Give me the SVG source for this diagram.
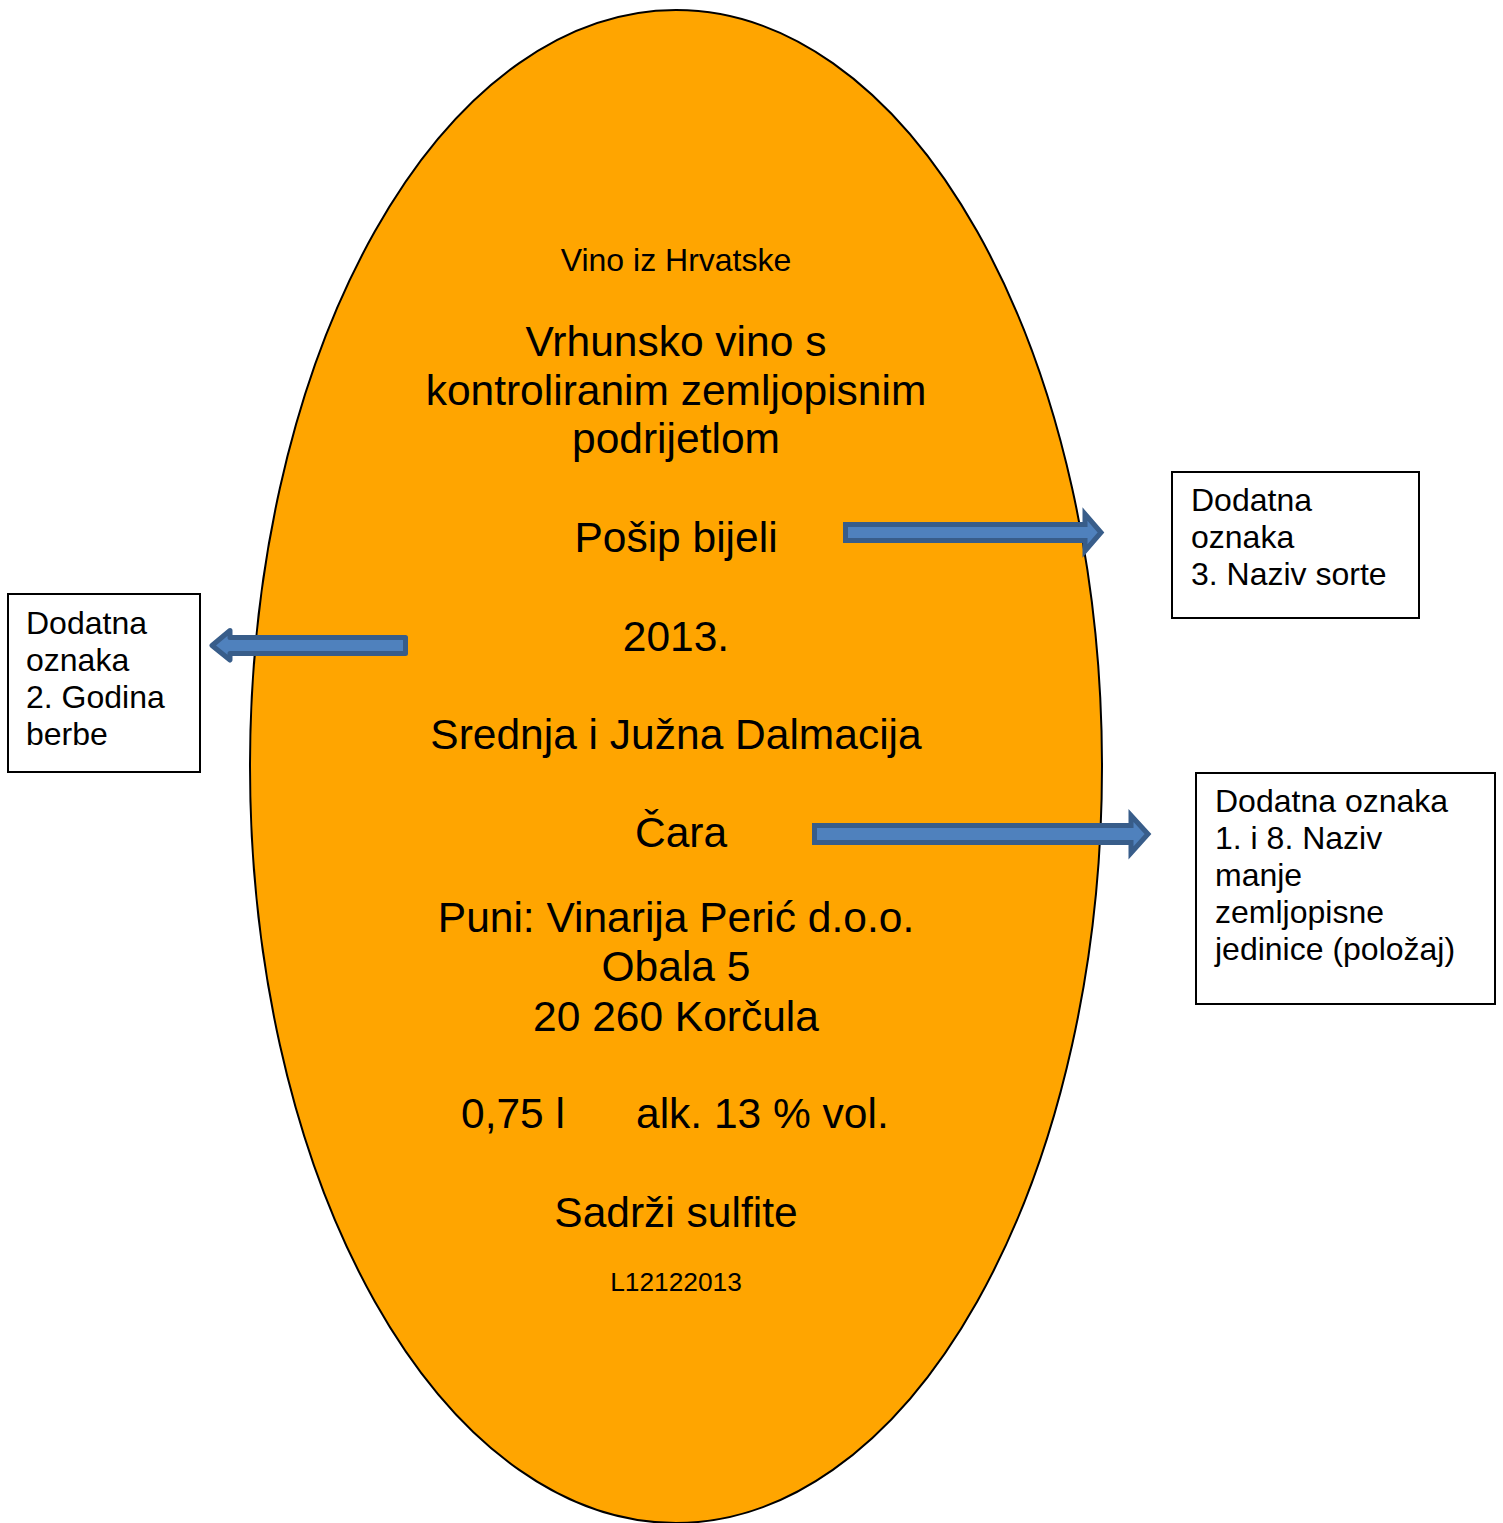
<svg xmlns="http://www.w3.org/2000/svg" width="1503" height="1523" viewBox="0 0 1503 1523">
<style>
text{font-family:"Liberation Sans",Arial,sans-serif;fill:#000}
.c{text-anchor:middle}
.big{font-size:42.5px}
.mid{font-size:32px}
.sm{font-size:26.3px}
.box{fill:#fff;stroke:#000;stroke-width:2}
.arr{fill:#4F81BD;stroke:#385D8A;stroke-width:5}
</style>
<rect width="1503" height="1523" fill="#fff"/>
<g id="label">
<ellipse cx="676" cy="766.5" rx="426" ry="756.5" fill="#FFA500" stroke="#000" stroke-width="2"/>
<text class="c mid" x="676" y="271">Vino iz Hrvatske</text>
<text class="c big" x="676" y="356">Vrhunsko vino s</text>
<text class="c big" x="676" y="404.5">kontroliranim zemljopisnim</text>
<text class="c big" x="676" y="453">podrijetlom</text>
<text class="c big" x="676" y="552">Pošip bijeli</text>
<text class="c big" x="676" y="651">2013.</text>
<text class="c big" x="676" y="749">Srednja i Južna Dalmacija</text>
<text class="c big" x="681" y="847">Čara</text>
<text class="c big" x="676" y="932">Puni: Vinarija Perić d.o.o.</text>
<text class="c big" x="676" y="981">Obala 5</text>
<text class="c big" x="676" y="1030.5">20 260 Korčula</text>
<text class="big" y="1128"><tspan x="461">0,75 l</tspan><tspan x="636">alk. 13 % vol.</tspan></text>
<text class="c big" x="676" y="1226.5">Sadrži sulfite</text>
<text class="c sm" x="676" y="1291">L12122013</text>
</g>
<g id="note-sorte">
<rect class="box" x="1172" y="472" width="247" height="146"/>
<text class="mid" x="1191" y="511">Dodatna</text>
<text class="mid" x="1191" y="548">oznaka</text>
<text class="mid" x="1191" y="585">3. Naziv sorte</text>
</g>
<g id="note-berba">
<rect class="box" x="8" y="594" width="192" height="178"/>
<text class="mid" x="26" y="634">Dodatna</text>
<text class="mid" x="26" y="671">oznaka</text>
<text class="mid" x="26" y="708">2. Godina</text>
<text class="mid" x="26" y="745">berbe</text>
</g>
<g id="note-polozaj">
<rect class="box" x="1196" y="773" width="299" height="231"/>
<text class="mid" x="1215" y="812">Dodatna oznaka</text>
<text class="mid" x="1215" y="849">1. i 8. Naziv</text>
<text class="mid" x="1215" y="886">manje</text>
<text class="mid" x="1215" y="923">zemljopisne</text>
<text class="mid" x="1215" y="960">jedinice (položaj)</text>
</g>
<g id="connectors">
<path class="arr" d="M845.5,524.5 L1085,524.5 L1085,514 L1101,532.5 L1085,551 L1085,540.5 L845.5,540.5 Z"/>
<path class="arr" stroke-linejoin="round" d="M405.5,637.5 L230,637.5 L230,630.5 L212,645.5 L230,660 L230,653.5 L405.5,653.5 Z"/>
<path class="arr" d="M814.5,825.5 L1131,825.5 L1131,815.5 L1148,834 L1131,853 L1131,842.5 L814.5,842.5 Z"/>
</g>
</svg>
